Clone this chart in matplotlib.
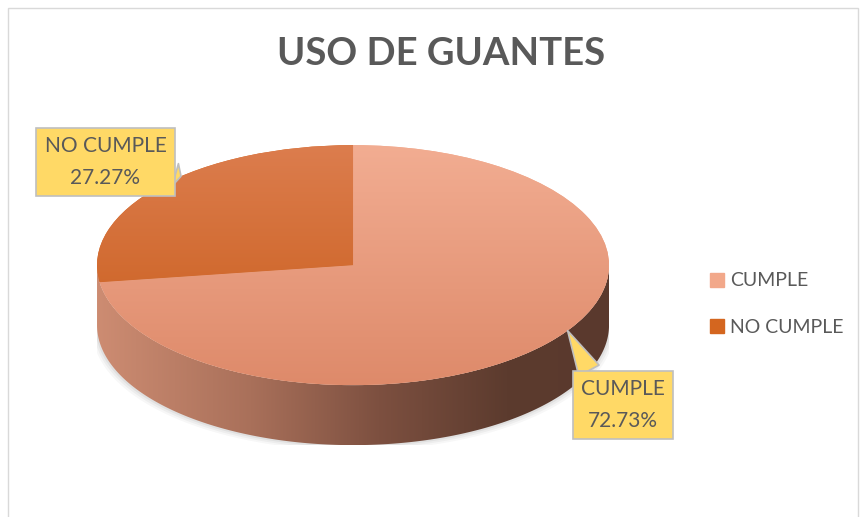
# Gráfico circular 3D "USO DE GUANTES" (estilo Excel) con matplotlib

import numpy as np
import matplotlib
matplotlib.use("Agg")
import matplotlib.pyplot as plt
from matplotlib.patches import Patch, Polygon, Rectangle
from matplotlib.colors import LinearSegmentedColormap

# datos
categorias = ["CUMPLE", "NO CUMPLE"]
porcentajes = [72.73, 27.27]

# colores
color_legenda = ["#f2a88a", "#d4661f"]
grad_superior = [("#f2ad92", "#de8a6a"), ("#dc7d4e", "#c85b17")]
color_texto = "#595959"
color_globo = "#ffd966"

plt.rcParams['font.family'] = ['Lato', 'DejaVu Sans']

fig = plt.figure(figsize=(8.64, 5.17), dpi=100)

# borde del área del gráfico
fig.patches.append(Rectangle((0.0093, -0.02), 0.9838, 1.0045, transform=fig.transFigure,
                             fill=False, ec="#d9d9d9", lw=1))

ax = fig.add_axes([0.1123, 0.139, 0.5926, 0.5803])
profundidad = 0.5

cuñas, _ = ax.pie(porcentajes, startangle=90, counterclock=False, radius=1,
                  colors=color_legenda, wedgeprops=dict(linewidth=0))
ax.set_aspect('auto')
ax.axis('off')

# sombra suave debajo
th = np.linspace(np.pi, 2 * np.pi, 200)
for i, a in enumerate([0.05, 0.04, 0.03]):
    off = 0.015 * (i + 1)
    sx = np.cos(th) * (1 + off * 0.4)
    sy = np.sin(th) - profundidad - off
    pts = np.column_stack([np.r_[sx, sx[::-1]], np.r_[sy, (np.sin(th) * 0)[::-1]]])
    ax.add_patch(Polygon(pts, closed=True, fc="black", ec="none", alpha=a, zorder=0.5))

# lateral del cilindro con degradado horizontal
lado = np.column_stack([np.r_[np.cos(th), np.cos(th)[::-1]],
                        np.r_[np.sin(th), (np.sin(th) - profundidad)[::-1]]])
poly_lado = Polygon(lado, closed=True, fc="none", ec="none", zorder=0.8)
ax.add_patch(poly_lado)
cmap_lado = LinearSegmentedColormap.from_list(
    "lado", [(0, "#cd8c72"), (0.3, "#a9705a"), (0.55, "#7d5040"), (0.8, "#5c3b2e"), (1, "#5a392d")])
grad = np.linspace(0, 1, 256).reshape(1, -1)
im = ax.imshow(grad, cmap=cmap_lado, extent=(-1, 1, -1 - profundidad, 0), aspect='auto',
               zorder=0.9, interpolation='bilinear')
im.set_clip_path(poly_lado)

# degradado vertical en la cara superior
for w, (c_arriba, c_abajo) in zip(cuñas, grad_superior):
    w.set_zorder(1)
    cm = LinearSegmentedColormap.from_list("g", [c_abajo, c_arriba])
    g = np.linspace(0, 1, 256).reshape(-1, 1)
    im2 = ax.imshow(g, cmap=cm, extent=(-1, 1, -1, 1), origin='lower', aspect='auto',
                    zorder=1.1, interpolation='bilinear')
    im2.set_clip_path(w)

ax.set_xlim(-1, 1)
ax.set_ylim(-1 - profundidad, 1)

# etiquetas tipo globo
pos_globo = [(0.7211, 0.2166), (0.1221, 0.6867)]
frac_ancla = [0.53, 0.43]
relpos_globo = [(0.15, 1.0), (1.0, 0.3)]
for w, cat, p, pos, fr, rp in zip(cuñas, categorias, porcentajes, pos_globo, frac_ancla, relpos_globo):
    ang = np.deg2rad(w.theta1 + fr * (w.theta2 - w.theta1))
    ax.annotate(f"{cat}\n{p:.2f}%", xy=(np.cos(ang), np.sin(ang)), xycoords='data',
                xytext=pos, textcoords='figure fraction', ha='center', va='center',
                fontsize=15, color=color_texto, linespacing=1.7, zorder=5,
                bbox=dict(boxstyle="square,pad=0.4", fc=color_globo, ec="#bfbfbf", lw=1.2),
                arrowprops=dict(arrowstyle="wedge,tail_width=1.1,shrink_factor=0.5",
                                fc=color_globo, ec="#bfbfbf", lw=1.2, relpos=rp,
                                shrinkA=0, shrinkB=0))

# título
fig.text(0.511, 1 - 54 / 517, "USO DE GUANTES", ha='center', va='center',
         fontsize=27.5, fontweight='bold', color=color_texto)

# leyenda
handles = [Patch(color=c, label=l) for c, l in zip(color_legenda, categorias)]
fig.legend(handles=handles, loc='center left', bbox_to_anchor=(0.81, 0.412),
           frameon=False, fontsize=14, labelcolor=color_texto, handlelength=0.75,
           handleheight=0.75, handletextpad=0.3, labelspacing=1.5, borderpad=0)

fig.savefig("out.png", dpi=100)
